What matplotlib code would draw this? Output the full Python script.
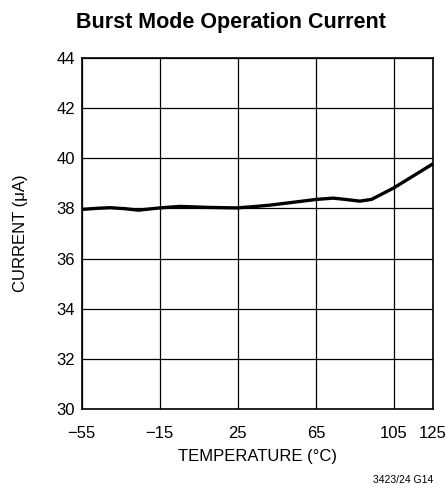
import matplotlib
matplotlib.use("Agg")
import matplotlib.pyplot as plt

plt.rcParams['font.family'] = ['Liberation Sans', 'DejaVu Sans']

# values
temperature = [-55, -48, -40.5, -33, -26, -15, -4.7, 10, 24.4, 33, 41.4, 55, 65.3, 73.8, 80, 87.5, 93.5, 99, 104.5, 115, 125]
current = [37.96, 38.0, 38.03, 37.99, 37.93, 38.02, 38.08, 38.04, 38.02, 38.07, 38.13, 38.26, 38.36, 38.41, 38.36, 38.29, 38.36, 38.58, 38.8, 39.3, 39.78]

xticks = [-55, -15, 25, 65, 105, 125]
xticklabels = ['\u221255', '\u221215', '25', '65', '105', '125']
yticks = [30, 32, 34, 36, 38, 40, 42, 44]

fig = plt.figure(figsize=(4.48, 4.93), dpi=100)
ax = fig.add_axes([0.1824, 0.1704, 0.7841, 0.712])

ax.plot(temperature, current, color='black', linewidth=2.4, solid_capstyle='butt')

ax.set_xlim(-55, 125)
ax.set_ylim(30, 44)
ax.set_xticks(xticks)
ax.set_xticklabels(xticklabels)
ax.set_yticks(yticks)
ax.tick_params(length=0, labelsize=12)
ax.tick_params(axis='x', pad=12)
ax.tick_params(axis='y', pad=5)
ax.grid(True, color='black', linewidth=0.9)
for s in ax.spines.values():
    s.set_linewidth(1.2)

ax.set_xlabel('TEMPERATURE (\u00b0C)', fontsize=12, labelpad=6)
ax.set_ylabel('CURRENT (\u03bcA)', fontsize=12, labelpad=20)

fig.text(0.515, 0.955, 'Burst Mode Operation Current', ha='center', va='center',
         fontsize=15.5, fontweight='bold')
fig.text(0.968, 0.027, '3423/24 G14', ha='right', va='center', fontsize=7.5)

fig.savefig('out.png', dpi=100)
